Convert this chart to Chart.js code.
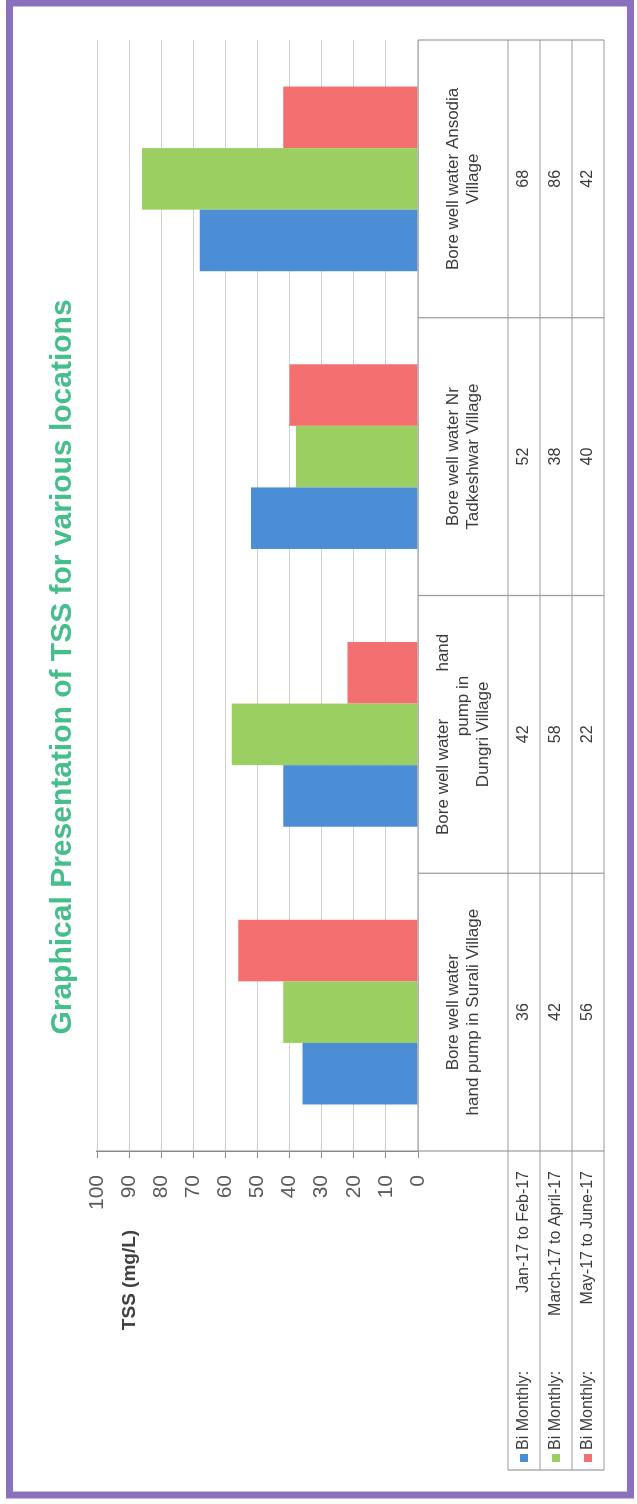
<!DOCTYPE html>
<html><head><meta charset="utf-8">
<script src="https://cdn.jsdelivr.net/npm/chart.js@4.4.0/dist/chart.umd.min.js"></script>
<style>
html,body{margin:0;padding:0;background:#fff;overflow:hidden;width:637px;height:1504px;}
#wrap{position:absolute;left:0;top:0;width:1504px;height:637px;transform-origin:0 0;transform:translate(0px,1504px) rotate(-90deg);}
canvas{display:block;}
</style></head><body>
<div id="wrap"><canvas id="c" width="1504" height="637"></canvas></div>
<script>
// ---- data ----
const categories = [
  ["Bore well water", "hand pump in Surali Village"],
  ["Bore well water          hand", "            pump in", "Dungri Village"],
  ["Bore well water Nr", "Tadkeshwar Village"],
  ["Bore well water Ansodia", "Village"]
];
const seriesPrefix = "Bi Monthly:";
const seriesPeriods = ["Jan-17 to Feb-17", "March-17 to April-17", "May-17 to June-17"];
const janFeb = [36, 42, 52, 68];
const marApr = [42, 58, 38, 86];
const mayJun = [56, 22, 40, 42];
const seriesColors = ["#4C8ED6", "#9CCF62", "#F47070"];
const yMin = 0, yMax = 100, yStep = 10;
const chartTitle = "Graphical Presentation of TSS for various locations";
const yAxisTitle = "TSS (mg/L)";

const FONT = "'Liberation Sans', Arial, sans-serif";

const tablePlugin = {
  id: 'tbl',
  beforeDraw(chart) {
    const ctx = chart.ctx;
    ctx.save(); ctx.fillStyle = '#fff'; ctx.fillRect(0, 0, chart.width, chart.height); ctx.restore();
  },
  afterDraw(chart) {
    const ctx = chart.ctx, ca = chart.chartArea, ys = chart.scales.y;
    const n = categories.length;
    const band = (ca.right - ca.left) / n;
    const top = ys.getPixelForValue(yMin);
    const headH = 90, rowH = 32;
    const r0 = top + headH;
    const bottom = r0 + 3 * rowH;
    const legL = 34;
    ctx.save();
    ctx.strokeStyle = '#9a9a9a';
    ctx.lineWidth = 1.2;
    ctx.beginPath();
    // horizontal lines
    ctx.moveTo(ca.left, top); ctx.lineTo(ca.right, top);
    for (let r = 0; r <= 3; r++) {
      const y = r0 + r * rowH;
      ctx.moveTo(legL, y); ctx.lineTo(ca.right, y);
    }
    // vertical lines
    ctx.moveTo(legL, r0); ctx.lineTo(legL, bottom);
    for (let i = 0; i <= n; i++) {
      const x = ca.left + i * band;
      ctx.moveTo(x, top); ctx.lineTo(x, bottom);
    }
    ctx.stroke();

    // category labels
    ctx.fillStyle = '#3c3c3c';
    ctx.font = '17px ' + FONT;
    ctx.textAlign = 'center';
    ctx.textBaseline = 'middle';
    const lh = 20;
    categories.forEach((lines, i) => {
      const cx = ca.left + (i + 0.5) * band;
      const cy = top + headH / 2;
      const y0 = cy - (lines.length - 1) * lh / 2;
      lines.forEach((t, k) => ctx.fillText(t, cx, y0 + k * lh));
    });
    // values
    ctx.font = '16px ' + FONT;
    chart.data.datasets.forEach((ds, r) => {
      const cy = r0 + (r + 0.5) * rowH;
      ds.data.forEach((v, i) => {
        ctx.fillText(String(v), ca.left + (i + 0.5) * band, cy);
      });
      // legend cell
      ctx.fillStyle = ds.backgroundColor;
      ctx.fillRect(legL + 8, cy - 4, 8, 8);
      ctx.fillStyle = '#3c3c3c';
      ctx.textAlign = 'left';
      ctx.fillText(seriesPrefix, legL + 20, cy);
      ctx.textAlign = 'right';
      ctx.fillText(seriesPeriods[r], ca.left - 20, cy);
      ctx.textAlign = 'center';
    });

    // title
    ctx.fillStyle = '#45BE8C';
    ctx.font = 'bold 30px ' + FONT;
    ctx.fillText(chartTitle, 837, 63);
    // axis title
    ctx.fillStyle = '#404040';
    ctx.font = 'bold 19px ' + FONT;
    ctx.fillText(yAxisTitle, 224, 130);

    // purple frame
    ctx.strokeStyle = '#8A70BF';
    ctx.lineWidth = 7;
    ctx.strokeRect(9, 9.5, 1492, 621);
    ctx.restore();
  }
};

new Chart(document.getElementById('c'), {
  type: 'bar',
  data: {
    labels: categories,
    datasets: [
      { label: seriesPrefix + ' ' + seriesPeriods[0], data: janFeb, backgroundColor: seriesColors[0] },
      { label: seriesPrefix + ' ' + seriesPeriods[1], data: marApr, backgroundColor: seriesColors[1] },
      { label: seriesPrefix + ' ' + seriesPeriods[2], data: mayJun, backgroundColor: seriesColors[2] }
    ]
  },
  options: {
    responsive: false,
    devicePixelRatio: 1,
    animation: false,
    layout: { padding: { left: 0, right: 40, top: 97, bottom: 219 } },
    datasets: { bar: { categoryPercentage: 0.665, barPercentage: 1.0, borderWidth: 0 } },
    plugins: { legend: { display: false }, tooltip: { enabled: false }, title: { display: false } },
    scales: {
      x: {
        grid: { display: false }, border: { display: false },
        ticks: { display: false },
        afterFit(s) { s.height = 0; }
      },
      y: {
        min: yMin, max: yMax,
        ticks: { stepSize: yStep, font: { family: FONT, size: 21 }, color: '#5a5a5a', padding: 17 },
        grid: { color: '#cfcfcf', lineWidth: 1, tickLength: 7, tickColor: '#8c8c8c' },
        border: { color: '#8c8c8c', width: 1.5 },
        afterFit(s) { s.width = 353; }
      }
    }
  },
  plugins: [tablePlugin]
});
</script>
</body></html>
